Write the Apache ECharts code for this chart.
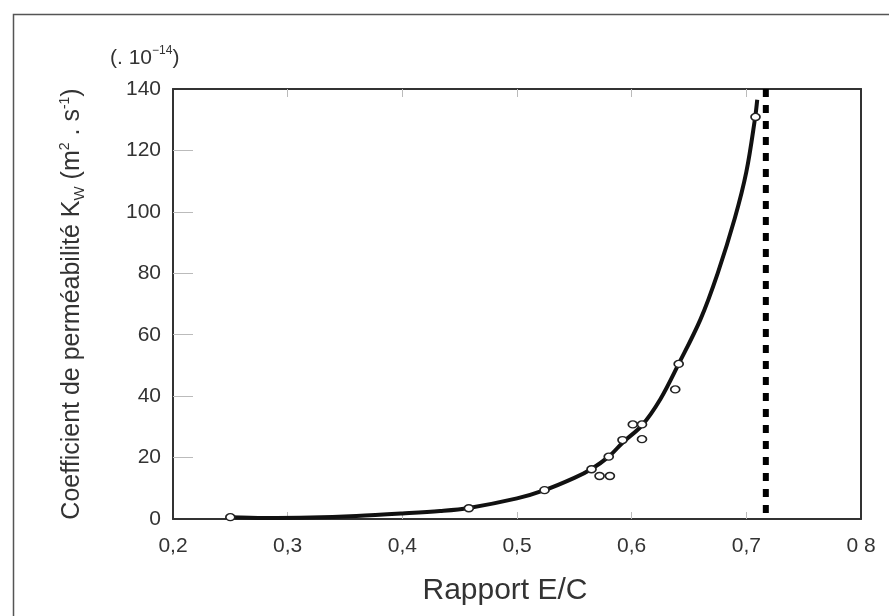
<!DOCTYPE html>
<html>
<head>
<meta charset="utf-8">
<script src="https://cdn.jsdelivr.net/npm/echarts@6/dist/echarts.min.js"></script>
<style>
  html, body { margin: 0; padding: 0; background: #fff; }
  #chart { width: 889px; height: 616px; }
</style>
</head>
<body>
<div id="chart"></div>
<script>
// tick labels of the E/C axis (the last one is printed "0 8" in the source)
const xTickLabels = ['0,2', '0,3', '0,4', '0,5', '0,6', '0,7', '0 8'];
// inner tick positions (the end ticks sit on the frame)
const xInnerTicks = [0.3, 0.4, 0.5, 0.6, 0.7];
const yInnerTicks = [20, 40, 60, 80, 100, 120];

// measured points (hollow circles)
const pointX = [0.25, 0.458, 0.524, 0.565, 0.572, 0.581, 0.580, 0.592, 0.601, 0.609, 0.609, 0.638, 0.641, 0.708];
const pointY = [0.6, 3.5, 9.4, 16.2, 14.0, 14.0, 20.3, 25.7, 30.8, 30.8, 26.0, 42.2, 50.5, 130.9];

// fitted curve
const curveX = [0.25, 0.28, 0.32, 0.36, 0.40, 0.433, 0.458, 0.50, 0.524, 0.55, 0.565, 0.58, 0.5925, 0.609, 0.625, 0.641, 0.66, 0.675, 0.69, 0.70, 0.7076, 0.7095];
const curveY = [0.6, 0.35, 0.5, 1.0, 1.8, 2.6, 3.6, 6.7, 9.4, 13.4, 16.3, 20.3, 25.0, 30.5, 39.0, 50.5, 65, 80, 98, 113, 130.5, 136.5];

// limit E/C (dotted vertical)
const limitX = 0.717;
const limitY = [140, 0];

const font = '"Liberation Sans", Arial, sans-serif';
const textColor = '#333';

let chart = echarts.init(document.getElementById('chart'), null, { renderer: 'canvas' });

let option = {
    animation: false,
    backgroundColor: '#fff',
    grid: { left: 173, right: 28, top: 89, bottom: 97 },
    xAxis: [
        {
            type: 'value', min: 0.2, max: 0.8, interval: 0.1,
            name: 'Rapport E/C',
            nameLocation: 'middle',
            nameGap: 57,
            nameTextStyle: { fontFamily: font, fontSize: 30, color: textColor, padding: [0, 24, 0, 0] },
            axisLine: { show: true, onZero: false, lineStyle: { color: '#333', width: 2 } },
            axisTick: { show: true, inside: true, length: 7, customValues: xInnerTicks, lineStyle: { color: '#bbb' } },
            axisLabel: {
                margin: 17, fontFamily: font, fontSize: 21, color: textColor,
                formatter: v => xTickLabels[Math.round((v - 0.2) / 0.1)]
            },
            splitLine: { show: false }
        },
        {
            type: 'value', min: 0.2, max: 0.8, interval: 0.1, position: 'top',
            axisLine: { show: true, onZero: false, lineStyle: { color: '#333', width: 2 } },
            axisTick: { show: true, inside: true, length: 8, customValues: xInnerTicks, lineStyle: { color: '#bbb' } },
            axisLabel: { show: false },
            splitLine: { show: false }
        }
    ],
    yAxis: [
        {
            type: 'value', min: 0, max: 140, interval: 20,
            name: '{t|Coefficient de perméabilité K}{sub|W}{t| (m}{sup|2}{t| . s}{sup|-1}{t|)}',
            nameLocation: 'middle',
            nameRotate: 90,
            nameGap: 84,
            nameTextStyle: {
                color: textColor,
                rich: {
                    t: { fontFamily: font, fontSize: 25, color: textColor, lineHeight: 34, verticalAlign: 'middle' },
                    sub: { fontFamily: font, fontSize: 15, color: textColor, lineHeight: 34, verticalAlign: 'bottom', padding: [0, 0, 2, 0] },
                    sup: { fontFamily: font, fontSize: 14, color: textColor, lineHeight: 34, verticalAlign: 'top', padding: [3, 0, 0, 0] }
                }
            },
            axisLine: { show: true, onZero: false, lineStyle: { color: '#333', width: 2 } },
            axisTick: { show: true, inside: true, length: 20, customValues: yInnerTicks, lineStyle: { color: '#bbb' } },
            axisLabel: { margin: 12, fontFamily: font, fontSize: 21, color: textColor },
            splitLine: { show: false }
        },
        {
            type: 'value', min: 0, max: 140, interval: 20, position: 'right',
            axisLine: { show: true, onZero: false, lineStyle: { color: '#333', width: 2 } },
            axisTick: { show: false },
            axisLabel: { show: false },
            splitLine: { show: false }
        }
    ],
    graphic: [
        {
            type: 'rect', left: 11, top: 12, silent: true,
            shape: { width: 900, height: 700 },
            style: { fill: 'none', stroke: '#555', lineWidth: 1.5 }
        },
        {
            type: 'text', left: 110, top: 45,
            style: {
                text: '{t|(. 10}{sup|−14}{t|)}',
                rich: {
                    t: { fontFamily: font, fontSize: 21, fill: textColor, lineHeight: 26, verticalAlign: 'middle' },
                    sup: { fontFamily: font, fontSize: 12, fill: textColor, lineHeight: 26, verticalAlign: 'top' }
                }
            }
        }
    ],
    series: [
        {
            type: 'line',
            data: curveX.map((x, i) => [x, curveY[i]]),
            smooth: 0.35,
            showSymbol: false,
            lineStyle: { color: '#111', width: 4 },
            z: 2
        },
        {
            type: 'line',
            data: limitY.map(y => [limitX, y]),
            showSymbol: false,
            lineStyle: { color: '#000', width: 6, type: [8, 8], cap: 'butt' },
            z: 2
        },
        {
            type: 'scatter',
            data: pointX.map((x, i) => [x, pointY[i]]),
            symbol: 'circle',
            symbolSize: [9, 7],
            itemStyle: { color: '#fff', borderColor: '#222', borderWidth: 1.5, opacity: 1 },
            z: 3
        }
    ]
};

chart.setOption(option);
</script>
</body>
</html>
